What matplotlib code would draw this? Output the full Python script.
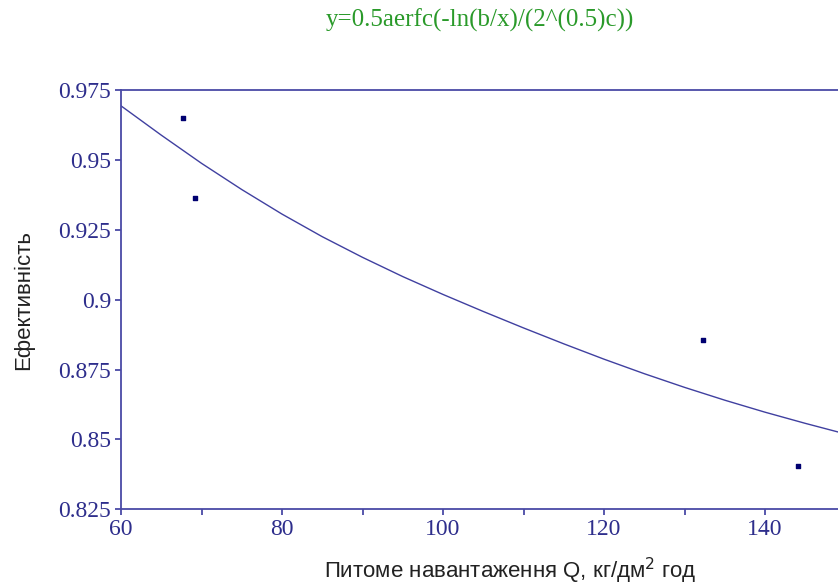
import matplotlib
matplotlib.use("Agg")
import matplotlib.pyplot as plt
from matplotlib.ticker import MultipleLocator, FuncFormatter

# measured points: specific load Q vs efficiency
q_meas = [67.66, 69.15, 132.3, 144.14]
eff_meas = [0.9651, 0.9365, 0.8856, 0.8403]

# fitted curve y = 0.5*a*erfc(-ln(b/x)/(sqrt(2)*c)), sampled along Q
q_fit = [60, 65, 70, 75, 80, 85, 90, 95, 100, 105, 110, 115, 120, 125,
         130, 135, 140, 145, 150]
eff_fit = [0.9695, 0.9590, 0.9489, 0.9395, 0.9307, 0.9226, 0.9152, 0.9083,
           0.9019, 0.8958, 0.8899, 0.8842, 0.8787, 0.8735, 0.8686, 0.8640,
           0.8597, 0.8557, 0.8519]

y_ticks = [0.825, 0.85, 0.875, 0.9, 0.925, 0.95, 0.975]

AXIS_COL = "#4a4aa6"
TICK_COL = "#2e2e8c"
LINE_COL = "#4040a0"
DOT_COL = "#000070"

fig = plt.figure(figsize=(8.38, 5.85), dpi=100)
ax = fig.add_axes([0.1444, 0.1299, 0.8646, 0.7154])

ax.plot(q_fit, eff_fit, color=LINE_COL, lw=1.0)
ax.scatter(q_meas, eff_meas, marker="s", s=7, color=DOT_COL, zorder=3)

ax.set_xlim(60, 150)
ax.set_ylim(0.825, 0.975)
ax.xaxis.set_major_locator(MultipleLocator(20))
ax.xaxis.set_minor_locator(MultipleLocator(10))
ax.set_yticks(y_ticks)
ax.yaxis.set_major_formatter(FuncFormatter(lambda v, _: f"{v:g}"))

for side in ("left", "bottom", "top"):
    ax.spines[side].set_color(AXIS_COL)
    ax.spines[side].set_linewidth(1.3)
ax.spines["right"].set_visible(False)

ax.tick_params(axis="both", which="both", direction="out", color=AXIS_COL,
               width=1.3, labelcolor=TICK_COL)
ax.tick_params(axis="both", which="major", length=4, pad=3)
ax.tick_params(axis="x", which="minor", length=4)
for lab in ax.get_xticklabels() + ax.get_yticklabels():
    lab.set_fontfamily("Liberation Serif")
    lab.set_fontsize(17)

ax.set_ylabel("Ефективність", fontfamily="Liberation Sans", fontsize=16,
              color="#222222")
ax.yaxis.set_label_coords(-(121 - 24) / 724.5, 0.5)
ax.set_xlabel("Питоме навантаження Q, кг/дм$^2$ год",
              fontfamily="Liberation Sans", fontsize=16, color="#222222")
ax.xaxis.set_label_coords((510 - 121) / 724.5, -(571 - 509) / 418.5)
ax.xaxis.label.set_va("center")
ax.yaxis.label.set_va("center")

fig.text(480 / 838, 1 - 20 / 585, "y=0.5aerfc(-ln(b/x)/(2^(0.5)c))",
         color="#2a9a2a", fontfamily="Liberation Serif", fontsize=18,
         ha="center", va="center")

fig.savefig("out.png", dpi=100)
